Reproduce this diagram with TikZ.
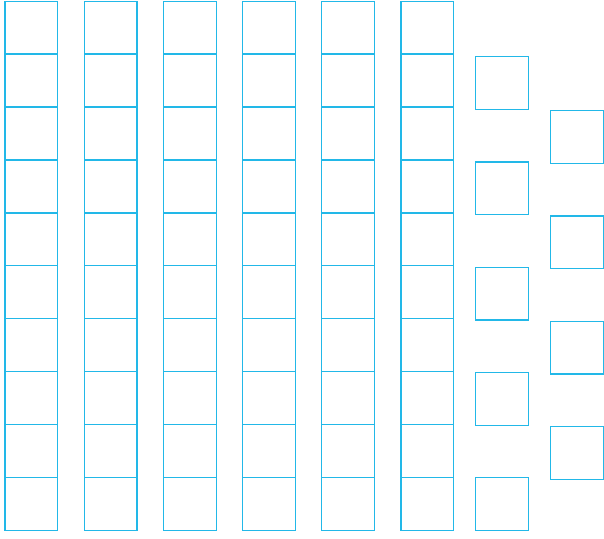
\documentclass[tikz,border=0pt]{standalone}
\usetikzlibrary{positioning}

\begin{document}
\begin{tikzpicture}[x=1pt, y=-1pt]
\definecolor{cyanline}{HTML}{22B8E8}
\tikzset{cell/.style={draw=cyanline, line width=1.3pt, minimum size=52.8pt, inner sep=0pt}}
\useasboundingbox (0,0) rectangle (604,538);
% block of six full columns
\foreach \i in {0,...,5}{\foreach \j in {0,...,9}{\node[cell] (c\i-\j) at ({31.4+79.2*\i},{27.7+52.9*\j}) {};}}
% two staggered columns on the right
\foreach \k in {0,...,4}{\node[cell] (p\k) at (502.1,{83.1+105.25*\k}) {};}
\foreach \k in {0,...,3}{\node[cell] (q\k) at (577.1,{137.1+105.25*\k}) {};}
\end{tikzpicture}
\end{document}
